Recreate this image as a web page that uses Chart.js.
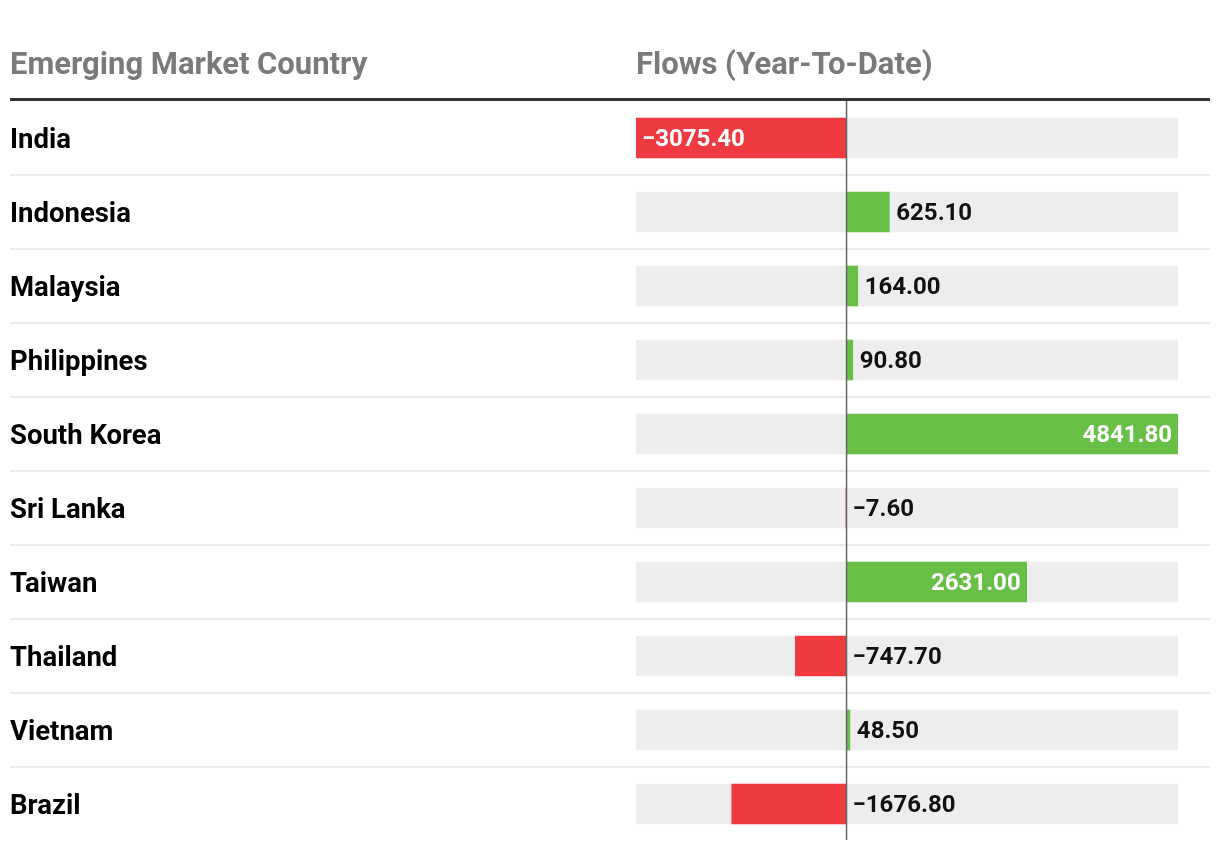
<!DOCTYPE html>
<html>
<head>
<meta charset="utf-8">
<script src="https://cdn.jsdelivr.net/npm/chart.js@4.4.1/dist/chart.umd.min.js"></script>
<style>
  html, body { margin: 0; padding: 0; background: #fff; }
  canvas { display: block; }
</style>
</head>
<body>
<canvas id="flowsChart" width="1220" height="850"></canvas>
<script>
// --- DATI ---
const countries = ['India', 'Indonesia', 'Malaysia', 'Philippines', 'South Korea', 'Sri Lanka', 'Taiwan', 'Thailand', 'Vietnam', 'Brazil'];
const flows = [-3075.40, 625.10, 164.00, 90.80, 4841.80, -7.60, 2631.00, -747.70, 48.50, -1676.80];
const headerLabels = ['Emerging Market Country', 'Flows (Year-To-Date)'];

const red = '#ef3a42';
const green = '#67bf45';
const trackGrey = '#ededed';
const fontFamily = 'Roboto, "Liberation Sans", sans-serif';

const xMin = Math.min(...flows);
const xMax = Math.max(...flows);

function formatValue(v) {
    const s = Math.abs(v).toFixed(2);
    return v < 0 ? '\u2212' + s : s;
}

// --- PLUGIN: intestazioni, separatori, nomi paesi, linea dello zero, etichette ---
const tablePlugin = {
    id: 'tablePlugin',
    beforeDatasetsDraw(chart) {
        const ctx = chart.ctx;
        const yScale = chart.scales.y;
        const area = chart.chartArea;
        ctx.save();

        // intestazioni
        ctx.font = `700 31px ${fontFamily}`;
        ctx.fillStyle = '#7a7a7a';
        ctx.textBaseline = 'alphabetic';
        ctx.textAlign = 'left';
        ctx.fillText(headerLabels[0], 10, 74);
        ctx.fillText(headerLabels[1], area.left, 74);

        // linea sotto l'intestazione
        ctx.strokeStyle = '#333';
        ctx.lineWidth = 3;
        ctx.beginPath();
        ctx.moveTo(10, 99.5);
        ctx.lineTo(1210, 99.5);
        ctx.stroke();

        // separatori tra le righe
        ctx.strokeStyle = '#ebebeb';
        ctx.lineWidth = 2;
        for (let i = 1; i < countries.length; i++) {
            const y = (yScale.getPixelForValue(i - 1) + yScale.getPixelForValue(i)) / 2;
            ctx.beginPath();
            ctx.moveTo(10, y);
            ctx.lineTo(1210, y);
            ctx.stroke();
        }

        // nomi dei paesi
        ctx.font = `700 27.5px ${fontFamily}`;
        ctx.fillStyle = '#000';
        countries.forEach((c, i) => {
            ctx.fillText(c, 10, yScale.getPixelForValue(i) + 9.5);
        });
        ctx.restore();
    },
    afterDatasetsDraw(chart) {
        const ctx = chart.ctx;
        const xScale = chart.scales.x;
        const yScale = chart.scales.y;
        const area = chart.chartArea;
        const zeroX = xScale.getPixelForValue(0);
        ctx.save();

        // linea dello zero
        ctx.strokeStyle = '#666';
        ctx.lineWidth = 1.5;
        ctx.beginPath();
        ctx.moveTo(zeroX, area.top);
        ctx.lineTo(zeroX, area.bottom - 1);
        ctx.stroke();

        // etichette dei valori
        ctx.font = `700 24px ${fontFamily}`;
        ctx.textBaseline = 'alphabetic';
        const pad = 6;
        flows.forEach((v, i) => {
            const text = formatValue(v);
            const y = yScale.getPixelForValue(i) + 8;
            const endX = xScale.getPixelForValue(v);
            const barW = Math.abs(endX - zeroX);
            const textW = ctx.measureText(text).width;
            if (barW >= textW * 1.5) {
                ctx.fillStyle = '#fff';
                if (v < 0) {
                    ctx.textAlign = 'left';
                    ctx.fillText(text, endX + pad, y);
                } else {
                    ctx.textAlign = 'right';
                    ctx.fillText(text, endX - pad, y);
                }
            } else {
                ctx.fillStyle = '#111';
                ctx.textAlign = 'left';
                const startX = v < 0 ? zeroX + pad : endX + pad + 1;
                ctx.fillText(text, startX, y);
            }
        });
        ctx.restore();
    }
};

// --- GRAFICO ---
const ctx = document.getElementById('flowsChart').getContext('2d');
new Chart(ctx, {
    type: 'bar',
    data: {
        labels: countries,
        datasets: [
            {
                label: 'flows',
                data: flows,
                backgroundColor: flows.map(v => v < 0 ? red : green),
                borderWidth: 0,
                barThickness: 40,
                grouped: false,
                order: 1
            },
            {
                label: 'track',
                data: countries.map(() => [xMin, xMax]),
                backgroundColor: trackGrey,
                borderWidth: 0,
                barThickness: 40,
                grouped: false,
                order: 2
            }
        ]
    },
    options: {
        indexAxis: 'y',
        responsive: false,
        animation: false,
        layout: { padding: { left: 636, right: 42, top: 101, bottom: 9 } },
        plugins: {
            legend: { display: false },
            tooltip: { enabled: false }
        },
        scales: {
            x: { display: false, min: xMin, max: xMax, grid: { display: false } },
            y: { display: false, offset: true, grid: { display: false } }
        }
    },
    plugins: [tablePlugin]
});
</script>
</body>
</html>
